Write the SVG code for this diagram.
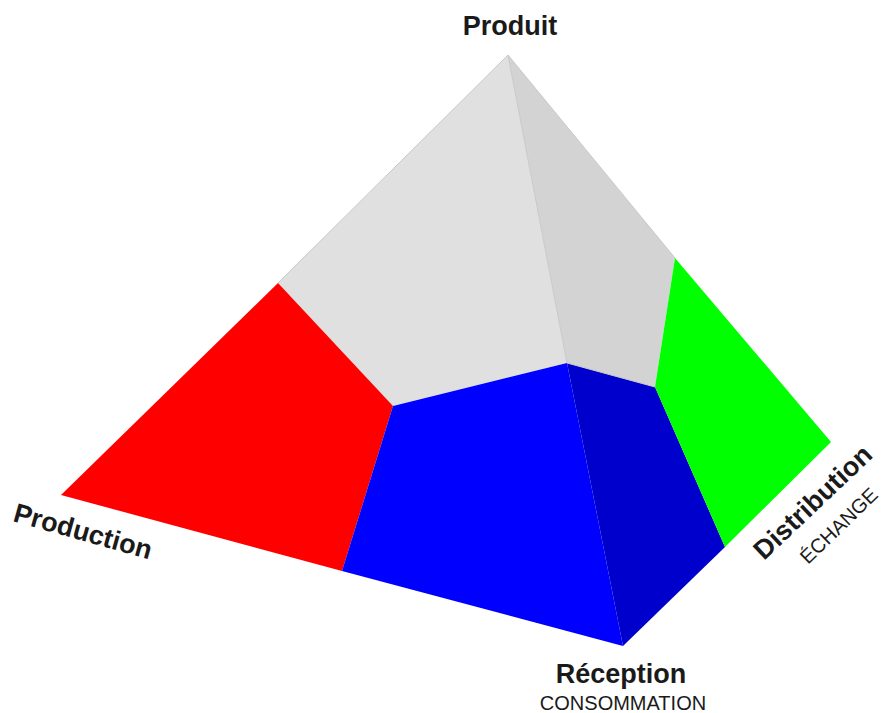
<svg xmlns="http://www.w3.org/2000/svg" width="882" height="713" viewBox="0 0 882 713">
<style>
.f{stroke-linejoin:round}
.edge{fill:none;stroke:#c9c9c9;stroke-width:1}
.lb{font-family:"Liberation Sans",Arial,sans-serif;font-weight:bold;font-size:27px;fill:#1a1a1a}
.sb{font-family:"Liberation Sans",Arial,sans-serif;font-size:20px;fill:#1a1a1a}
</style>
<rect width="882" height="713" fill="#ffffff"/>
<g id="pyramid">
<polygon id="face-left-gray" fill="#e0e0e0" points="508,55 278,283 393,406 567,363"/>
<polygon id="face-right-gray" fill="#d3d3d3" points="508,55 567,363 655,387 675,258"/>
<polygon id="production" fill="#ff0000" points="278,283 61,495 342,571 393,406"/>
<polygon id="reception-left" fill="#0000ff" points="393,406 342,571 623,646 567,363"/>
<polygon id="reception-right" fill="#0000cc" points="567,363 623,646 725,547 655,387"/>
<polygon id="distribution" fill="#00ff00" points="675,258 655,387 725,547 831,442"/>
<polyline class="edge" points="278,283 508,55 675,258"/>
<polyline class="edge" points="508,55 567,363 655,387"/>
</g>
<g id="label-produit"><text class="lb" x="510" y="35" text-anchor="middle">Produit</text></g>
<g id="label-production"><text class="lb" transform="translate(12,521) rotate(15.6)">Production</text></g>
<g id="label-reception">
<text class="lb" x="621" y="683" text-anchor="middle">Réception</text>
<text class="sb" x="623" y="710" text-anchor="middle">CONSOMMATION</text>
</g>
<g id="label-distribution">
<text class="lb" transform="translate(764,561) rotate(-43.5)">Distribution</text>
<text class="sb" transform="translate(808,565) rotate(-44)">ÉCHANGE</text>
</g>
</svg>
